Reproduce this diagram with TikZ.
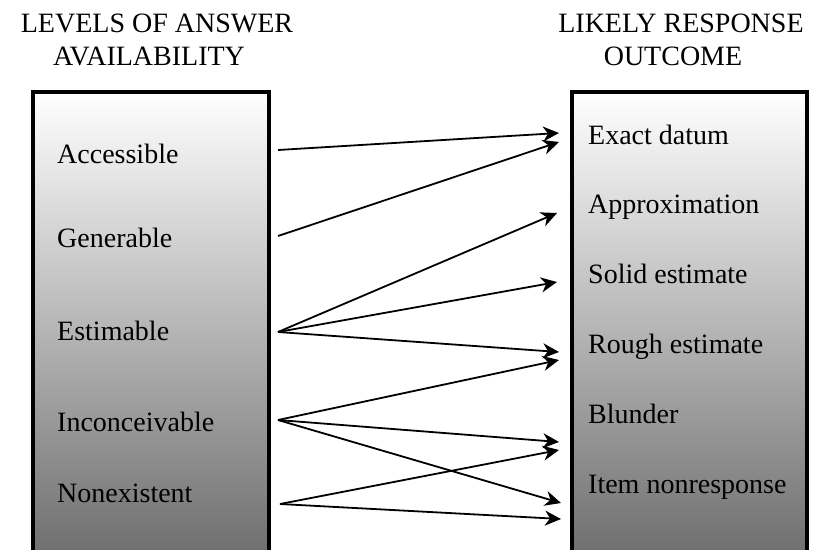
\documentclass[tikz,border=0pt]{standalone}
\usepackage{fontspec}
\setmainfont{Liberation Serif}
\usetikzlibrary{arrows.meta}

\begin{document}
\begin{tikzpicture}[x=1pt, y=-1pt,
		label/.style={anchor=base west, inner sep=0pt, font=\fontsize{28}{32}\selectfont},
		heading/.style={anchor=base, inner sep=0pt, font=\fontsize{28}{32}\selectfont},
		panel/.style={line width=3.5pt, top color=white, middle color=black!22, bottom color=black!62},
		link/.style={line width=1.8pt, -{Stealth[length=16pt, width=15pt, inset=5pt]}}]
			%%%%% START %%%%%
			
			\useasboundingbox (0, 0) rectangle (813, 549);
			\clip (0, 0) rectangle (813, 549);
			
			\node[heading] (headleft) at (157, 32) {LEVELS OF ANSWER};
			\node[heading] (headleftb) at (149, 65) {AVAILABILITY};
			\node[heading] (headright) at (681, 32) {LIKELY RESPONSE};
			\node[heading] (headrightb) at (673, 65) {OUTCOME};
			
			\draw[panel] (33, 92) rectangle (269, 600);
			\draw[panel] (572, 92) rectangle (807, 600);
			
			\node[label] (accessible) at (57, 163) {Accessible};
			\node[label] (generable) at (57, 247) {Generable};
			\node[label] (estimable) at (57, 340) {Estimable};
			\node[label] (inconceivable) at (57, 431) {Inconceivable};
			\node[label] (nonexistent) at (57, 502) {Nonexistent};
			
			\node[label] (exact) at (588, 144) {Exact datum};
			\node[label] (approx) at (588, 213) {Approximation};
			\node[label] (solid) at (588, 283) {Solid estimate};
			\node[label] (rough) at (588, 353) {Rough estimate};
			\node[label] (blunder) at (588, 423) {Blunder};
			\node[label] (nonresp) at (588, 493) {Item nonresponse};
			
			% start points
			\coordinate (accout) at (278, 150);
			\coordinate (genout) at (278, 236);
			\coordinate (estout) at (278, 332);
			\coordinate (incout) at (278, 420);
			\coordinate (nonout) at (280, 504);
			
			% end points
			\coordinate (exactina) at (559, 133);
			\coordinate (exactinb) at (559, 142);
			\coordinate (approxin) at (557, 213);
			\coordinate (solidin) at (557, 282);
			\coordinate (roughina) at (559, 352);
			\coordinate (roughinb) at (559, 360);
			\coordinate (blunderina) at (559, 442);
			\coordinate (blunderinb) at (559, 450);
			\coordinate (nonrespina) at (561, 503);
			\coordinate (nonrespinb) at (561, 519);
			
			\draw[link] (accout) -- (exactina);
			\draw[link] (genout) -- (exactinb);
			\draw[link] (estout) -- (approxin);
			\draw[link] (estout) -- (solidin);
			\draw[link] (estout) -- (roughina);
			\draw[link] (incout) -- (roughinb);
			\draw[link] (incout) -- (blunderina);
			\draw[link] (incout) -- (nonrespina);
			\draw[link] (nonout) -- (blunderinb);
			\draw[link] (nonout) -- (nonrespinb);
			
			%%%%% END %%%%%
\end{tikzpicture}
\end{document}
